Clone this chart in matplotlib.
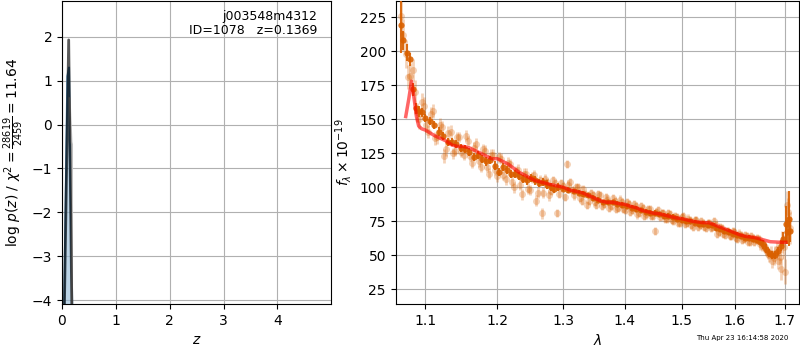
import numpy as np
import matplotlib
matplotlib.use('Agg')
import matplotlib.pyplot as plt

# p(z)
pz_z = [0.02, 0.124, 0.20]
pz_log = [-6.0, 1.93, -6.0]
pz2_z = [0.02, 0.10, 0.13, 0.21]
pz2_log = [-6.0, 1.10, 1.30, -6.0]
pz3_z = [0.14, 0.175, 0.185, 0.185]
pz3_log = [0.6, -0.40, -0.45, -6.0]

# spectrum, two faint sets
wave_a = [1.068, 1.074, 1.080, 1.086, 1.092, 1.098, 1.104, 1.110, 1.116, 1.122,
          1.128, 1.134, 1.140, 1.146, 1.152, 1.158, 1.164, 1.170, 1.176, 1.182,
          1.188, 1.194, 1.200, 1.206, 1.212, 1.218, 1.224, 1.230, 1.236, 1.242,
          1.248, 1.254, 1.260, 1.266, 1.272, 1.278, 1.284, 1.290, 1.296, 1.302,
          1.308, 1.314, 1.320, 1.326, 1.332, 1.338, 1.344, 1.350, 1.356, 1.362,
          1.368, 1.374, 1.380, 1.386, 1.392, 1.398, 1.404, 1.410, 1.416, 1.422,
          1.428, 1.434, 1.440, 1.446, 1.452, 1.458, 1.464, 1.470, 1.476, 1.482,
          1.488, 1.494, 1.500, 1.506, 1.512, 1.518, 1.524, 1.530, 1.536, 1.542,
          1.548, 1.554, 1.560, 1.566, 1.572, 1.578, 1.584, 1.590, 1.596, 1.602,
          1.608, 1.614, 1.620, 1.626, 1.632, 1.638, 1.644, 1.650, 1.656, 1.662,
          1.668, 1.674, 1.680, 1.686, 1.692, 1.698, 1.704, 1.710]
flux_a = [226, 198, 182, 170, 150, 160, 141, 156, 137, 144,
          128, 141, 127, 137, 124, 134, 118, 132, 115, 127,
          110, 124, 108, 121, 106, 117, 100, 113, 95, 110,
          98, 109, 96, 81, 106, 94, 105, 81, 103, 93,
          102, 98, 100, 92, 99, 87, 96, 89, 95, 86,
          93, 85, 92, 84, 91, 84, 89, 82, 88, 80,
          86, 79, 84, 79, 68, 83, 81, 77, 81, 76,
          79, 74, 78, 73, 77, 72, 76, 71, 75, 71,
          74, 70, 75, 66, 71, 66, 68, 64, 68, 63,
          66, 61, 65, 60, 64, 60, 63, 58, 58, 54,
          50, 46, 52, 46, 40, 56, 87, 70]
err_a = [14, 10, 9, 9, 7, 6, 5, 5, 5, 5,
         5, 5, 4, 4, 4, 4, 4, 4, 4, 4,
         4, 4, 4, 4, 4, 4, 4, 4, 4, 4,
         4, 4, 4, 4, 4, 4, 3, 3, 3, 3,
         3, 3, 3, 3, 3, 3, 3, 3, 3, 3,
         3, 3, 3, 3, 3, 3, 3, 3, 3, 3,
         3, 3, 3, 3, 3, 3, 3, 3, 3, 3,
         3, 3, 3, 3, 3, 3, 3, 3, 3, 3,
         3, 3, 3, 3, 3, 3, 3, 3, 3, 3,
         3, 3, 3, 3, 3, 3, 3, 4, 4, 4,
         5, 5, 5, 6, 8, 9, 10, 12]

wave_b = [1.071, 1.077, 1.083, 1.089, 1.095, 1.101, 1.107, 1.113, 1.119, 1.125,
          1.131, 1.137, 1.143, 1.149, 1.155, 1.161, 1.167, 1.173, 1.179, 1.185,
          1.191, 1.197, 1.203, 1.209, 1.215, 1.221, 1.227, 1.233, 1.239, 1.245,
          1.251, 1.257, 1.263, 1.269, 1.275, 1.281, 1.287, 1.293, 1.299, 1.305,
          1.311, 1.317, 1.323, 1.329, 1.335, 1.341, 1.347, 1.353, 1.359, 1.365,
          1.371, 1.377, 1.383, 1.389, 1.395, 1.401, 1.407, 1.413, 1.419, 1.425,
          1.431, 1.437, 1.443, 1.449, 1.455, 1.461, 1.467, 1.473, 1.479, 1.485,
          1.491, 1.497, 1.503, 1.509, 1.515, 1.521, 1.527, 1.533, 1.539, 1.545,
          1.551, 1.557, 1.563, 1.569, 1.575, 1.581, 1.587, 1.593, 1.599, 1.605,
          1.611, 1.617, 1.623, 1.629, 1.635, 1.641, 1.647, 1.653, 1.659, 1.665,
          1.671, 1.677, 1.683, 1.689, 1.695, 1.701, 1.707]
flux_b = [212, 181, 186, 155, 163, 146, 154, 136, 146, 123,
          140, 125, 137, 126, 138, 123, 129, 119, 128, 115,
          124, 113, 122, 109, 118, 104, 112, 102, 110, 99,
          107, 90, 105, 96, 104, 97, 103, 95, 101, 117,
          104, 94, 100, 90, 95, 90, 94, 87, 94, 88,
          91, 86, 90, 85, 89, 83, 88, 83, 86, 81,
          85, 80, 84, 79, 82, 78, 81, 77, 80, 75,
          78, 74, 79, 74, 76, 71, 76, 72, 74, 70,
          74, 71, 72, 67, 70, 65, 68, 64, 67, 62,
          65, 62, 64, 60, 63, 61, 62, 57, 56, 51,
          52, 48, 55, 49, 60, 38, 82]
err_b = [12, 9, 8, 7, 6, 5, 5, 5, 5, 5,
         5, 4, 4, 4, 4, 4, 4, 4, 4, 4,
         4, 4, 4, 4, 4, 4, 4, 4, 4, 4,
         4, 4, 4, 4, 3, 3, 3, 3, 3, 3,
         3, 3, 3, 3, 3, 3, 3, 3, 3, 3,
         3, 3, 3, 3, 3, 3, 3, 3, 3, 3,
         3, 3, 3, 3, 3, 3, 3, 3, 3, 3,
         3, 3, 3, 3, 3, 3, 3, 3, 3, 3,
         3, 3, 3, 3, 3, 3, 3, 3, 3, 3,
         3, 3, 3, 3, 3, 3, 3, 4, 4, 4,
         5, 5, 5, 6, 8, 9, 10]

# binned spectrum
wave_bin = [1.068, 1.071, 1.075, 1.079, 1.083, 1.088, 1.092, 1.096, 1.100, 1.106,
            1.112, 1.118, 1.124, 1.130, 1.136, 1.142, 1.148, 1.154, 1.160, 1.166,
            1.172, 1.178, 1.184, 1.190, 1.196, 1.202, 1.208, 1.214, 1.220, 1.226,
            1.232, 1.238, 1.244, 1.250, 1.256, 1.262, 1.268, 1.274, 1.280, 1.286,
            1.292, 1.300, 1.308, 1.316, 1.324, 1.332, 1.340, 1.348, 1.356, 1.364,
            1.372, 1.380, 1.388, 1.396, 1.404, 1.412, 1.420, 1.428, 1.436, 1.444,
            1.452, 1.460, 1.468, 1.476, 1.484, 1.492, 1.500, 1.508, 1.516, 1.524,
            1.532, 1.540, 1.548, 1.556, 1.564, 1.572, 1.580, 1.588, 1.596, 1.604,
            1.612, 1.620, 1.628, 1.636, 1.644, 1.650, 1.656, 1.662, 1.668, 1.674,
            1.680, 1.686, 1.692, 1.697, 1.702, 1.705, 1.708, 1.711]
flux_bin = [219, 208, 199, 194, 172, 158, 156, 155, 151, 149,
            146, 141, 138, 133, 133, 132, 129, 128, 126, 122,
            124, 121, 119, 120, 116, 111, 115, 113, 110, 110,
            108, 106, 105, 107, 105, 103, 104, 102, 100, 99,
            100, 99, 98, 97, 96, 95, 94, 92, 91, 89,
            89, 89, 88, 87, 86, 85, 84, 83, 82, 81,
            81, 80, 79, 79, 78, 77, 76, 75, 75, 74,
            73, 73, 72, 72, 70, 69, 68, 67, 66, 65,
            64, 63, 63, 62, 61, 60, 58, 55, 52, 50,
            50, 53, 57, 62, 73, 67, 77, 68]
err_bin = [20, 7, 6, 5, 5, 4, 4, 3, 3, 3,
           3, 3, 3, 3, 3, 3, 3, 3, 3, 3,
           3, 3, 3, 3, 3, 3, 3, 3, 3, 3,
           3, 3, 3, 3, 3, 3, 3, 3, 3, 3,
           3, 2, 2, 2, 2, 2, 2, 2, 2, 2,
           2, 2, 2, 2, 2, 2, 2, 2, 2, 2,
           2, 2, 2, 2, 2, 2, 2, 2, 2, 2,
           2, 2, 2, 2, 2, 2, 2, 2, 2, 2,
           2, 2, 2, 2, 2, 2, 3, 3, 3, 3,
           3, 3, 4, 5, 13, 9, 20, 8]

# best-fit model
wave_model = [1.074, 1.078, 1.0815, 1.085, 1.088, 1.091, 1.095, 1.100, 1.106, 1.112,
              1.120, 1.128, 1.136, 1.144, 1.152, 1.160, 1.168, 1.176, 1.184, 1.192,
              1.200, 1.208, 1.216, 1.224, 1.232, 1.240, 1.248, 1.256, 1.264, 1.272,
              1.280, 1.290, 1.300, 1.310, 1.320, 1.330, 1.340, 1.350, 1.360, 1.370,
              1.380, 1.390, 1.400, 1.410, 1.420, 1.430, 1.440, 1.450, 1.460, 1.470,
              1.480, 1.490, 1.500, 1.510, 1.520, 1.530, 1.540, 1.550, 1.560, 1.570,
              1.580, 1.590, 1.600, 1.610, 1.620, 1.630, 1.640, 1.650, 1.660, 1.670,
              1.680, 1.690, 1.702]
flux_model = [152, 165, 178, 165, 152, 145, 143, 142, 140, 138,
              136, 134, 131, 130, 130, 129, 127, 125, 123, 121,
              121, 119, 117, 114, 111, 109, 107, 105, 104, 103,
              102, 101, 100, 98, 97, 96, 94, 92, 90, 89,
              89, 88, 87.5, 86, 85, 83, 82, 81, 80.5, 79.5,
              78.5, 77.5, 77, 76, 75, 74.5, 74, 74, 72.5, 71,
              69.5, 68, 66.5, 65, 64, 63.5, 63, 62, 61, 60,
              59.8, 59.6, 59.6]

x_ticks = [1.1, 1.2, 1.3, 1.4, 1.5, 1.6, 1.7]
orange = '#d96000'

fig = plt.figure(figsize=(8, 3.5), dpi=100)

ax = fig.add_axes([0.0775, 0.1314, 0.336, 0.866])
ax.fill_between(pz2_z, pz2_log, -10, color='#8fb8d8', alpha=0.6, zorder=2)
ax.plot(pz2_z, pz2_log, color='#4a7ea6', lw=1.5, zorder=3)
ax.plot(pz3_z, pz3_log, color='0.75', lw=1.5, zorder=3)
ax.plot(pz_z, pz_log, color='k', lw=2, alpha=0.65, zorder=4)
ax.set_xlim(0, 4.99)
ax.set_ylim(-4.09, 2.82)
ax.set_xticks([0, 1, 2, 3, 4])
ax.set_yticks([-4, -3, -2, -1, 0, 1, 2])
ax.set_xlabel(r'$z$')
ax.set_ylabel(r'$\log\,p(z)$ / $\chi^2=\frac{28619}{2459}=11.64$')
ax.grid(True)
ax.set_axisbelow(True)
ax.text(0.95, 0.97, 'j003548m4312\nID=1078   z=0.1369', transform=ax.transAxes,
        ha='right', va='top', fontsize=9, linespacing=1.1)

axc = fig.add_axes([0.4946, 0.1314, 0.504, 0.866])
axc.errorbar(wave_a, flux_a, yerr=err_a, fmt='o', color=orange, alpha=0.28,
             ms=5, mec='none', elinewidth=2, zorder=2)
axc.errorbar(wave_b, flux_b, yerr=err_b, fmt='o', color=orange, alpha=0.28,
             ms=5, mec='none', elinewidth=2, zorder=2)
axc.errorbar(wave_bin, flux_bin, yerr=err_bin, fmt='o', color=orange, alpha=0.9,
             ms=4.5, mec='none', elinewidth=1.5, zorder=3)
axc.plot(wave_model, flux_model, color='r', alpha=0.6, lw=2.5, zorder=4)
axc.set_xscale('log')
axc.set_xlim(1.061, 1.729)
axc.set_ylim(14.2, 237)
axc.set_xticks(x_ticks)
axc.set_xticklabels([str(t) for t in x_ticks])
axc.xaxis.set_minor_locator(matplotlib.ticker.NullLocator())
axc.set_yticks([25, 50, 75, 100, 125, 150, 175, 200, 225])
axc.set_xlabel(r'$\lambda$')
axc.set_ylabel(r'$f_\lambda\times10^{-19}$')
axc.grid(True)
axc.set_axisbelow(True)

fig.text(0.985, 0.026, 'Thu Apr 23 16:14:58 2020', ha='right', va='bottom', fontsize=5)

fig.savefig('out.png', dpi=100)
